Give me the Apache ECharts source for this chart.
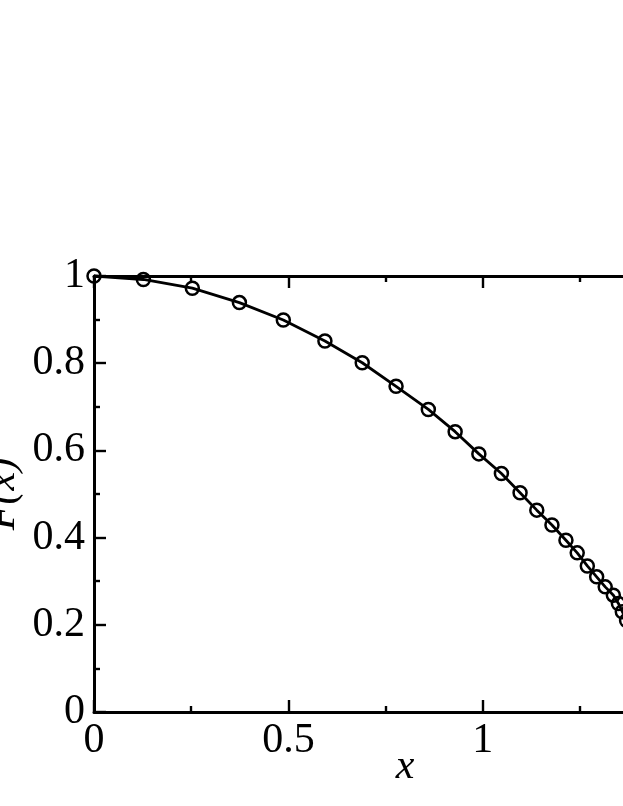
<!DOCTYPE html>
<html>
<head>
<meta charset="utf-8">
<script src="https://cdn.jsdelivr.net/npm/echarts@6/dist/echarts.min.js"></script>
<style>
html,body{margin:0;padding:0;background:#fff;overflow:hidden;}
#chart{width:800px;height:806px;}
</style>
</head>
<body>
<div id="chart"></div>
<script>
// Data
var xValues = [0, 0.127, 0.253, 0.374, 0.487, 0.594, 0.690, 0.777, 0.860, 0.929, 0.990, 1.048, 1.096, 1.139, 1.178, 1.214, 1.243, 1.269, 1.293, 1.315, 1.336, 1.349, 1.359, 1.370];
var yValues = [1.000, 0.992, 0.972, 0.939, 0.899, 0.851, 0.801, 0.747, 0.694, 0.643, 0.592, 0.547, 0.503, 0.463, 0.429, 0.394, 0.365, 0.335, 0.310, 0.287, 0.268, 0.249, 0.230, 0.210];
var xTickLabels = ['0', '0.5', '1', '1.5'];
var yTickLabels = ['0', '0.2', '0.4', '0.6', '0.8', '1'];
var xAxisName = 'x';
var yAxisName = 'F(x)';

var points = xValues.map(function (x, i) { return [x, yValues[i]]; });

var FONT = '"Liberation Serif", "Times New Roman", serif';
var labelStyle = {color: '#000', fontFamily: FONT, fontSize: 42};
var axisLine = {show: true, onZero: false, lineStyle: {color: '#000', width: 3}};
var majorTick = {show: true, inside: true, length: 12, lineStyle: {color: '#000', width: 2.4}};
var minorTick = {show: true, splitNumber: 2, length: 6, lineStyle: {color: '#000', width: 2.4}};

function fmt(list) {
  return function (v) {
    var s = String(Math.round(v * 10) / 10);
    return list.indexOf(s) >= 0 ? s : '';
  };
}

var chart = echarts.init(document.getElementById('chart'), null, {renderer: 'canvas'});
chart.setOption({
  backgroundColor: '#fff',
  animation: false,
  grid: {left: 94, right: 84, top: 276, bottom: 94, containLabel: false, outerBoundsMode: 'none'},
  xAxis: [{
    type: 'value', position: 'bottom', min: 0, max: 1.6, interval: 0.5,
    name: xAxisName, nameLocation: 'middle', nameGap: 34, nameMoveOverlap: false,
    nameTextStyle: {color: '#000', fontFamily: FONT, fontSize: 42, fontStyle: 'italic'},
    axisLine: axisLine, axisTick: majorTick, minorTick: minorTick,
    splitLine: {show: false}, minorSplitLine: {show: false},
    axisLabel: Object.assign({margin: 8, showMaxLabel: false, formatter: fmt(xTickLabels)}, labelStyle)
  }, {
    type: 'value', position: 'top', min: 0, max: 1.6, interval: 0.5,
    axisLine: axisLine, axisTick: majorTick, minorTick: minorTick,
    splitLine: {show: false}, axisLabel: {show: false}
  }],
  yAxis: [{
    type: 'value', position: 'left', min: 0, max: 1, interval: 0.2,
    name: yAxisName, nameLocation: 'middle', nameGap: 70, nameMoveOverlap: false,
    nameTextStyle: {color: '#000', fontFamily: FONT, fontSize: 42, fontStyle: 'italic'},
    axisLine: axisLine, axisTick: majorTick, minorTick: minorTick,
    splitLine: {show: false}, minorSplitLine: {show: false},
    axisLabel: Object.assign({margin: 9, formatter: fmt(yTickLabels)}, labelStyle)
  }, {
    type: 'value', position: 'right', min: 0, max: 1, interval: 0.2,
    axisLine: axisLine, axisTick: majorTick, minorTick: minorTick,
    splitLine: {show: false}, axisLabel: {show: false}
  }],
  series: [{
    type: 'line',
    data: points,
    clip: false,
    symbol: 'circle',
    symbolSize: 13,
    showAllSymbol: true,
    lineStyle: {color: '#000', width: 2.8},
    itemStyle: {color: 'rgba(0,0,0,0)', borderColor: '#000', borderWidth: 2.5},
    z: 3
  }]
});
</script>
</body>
</html>
